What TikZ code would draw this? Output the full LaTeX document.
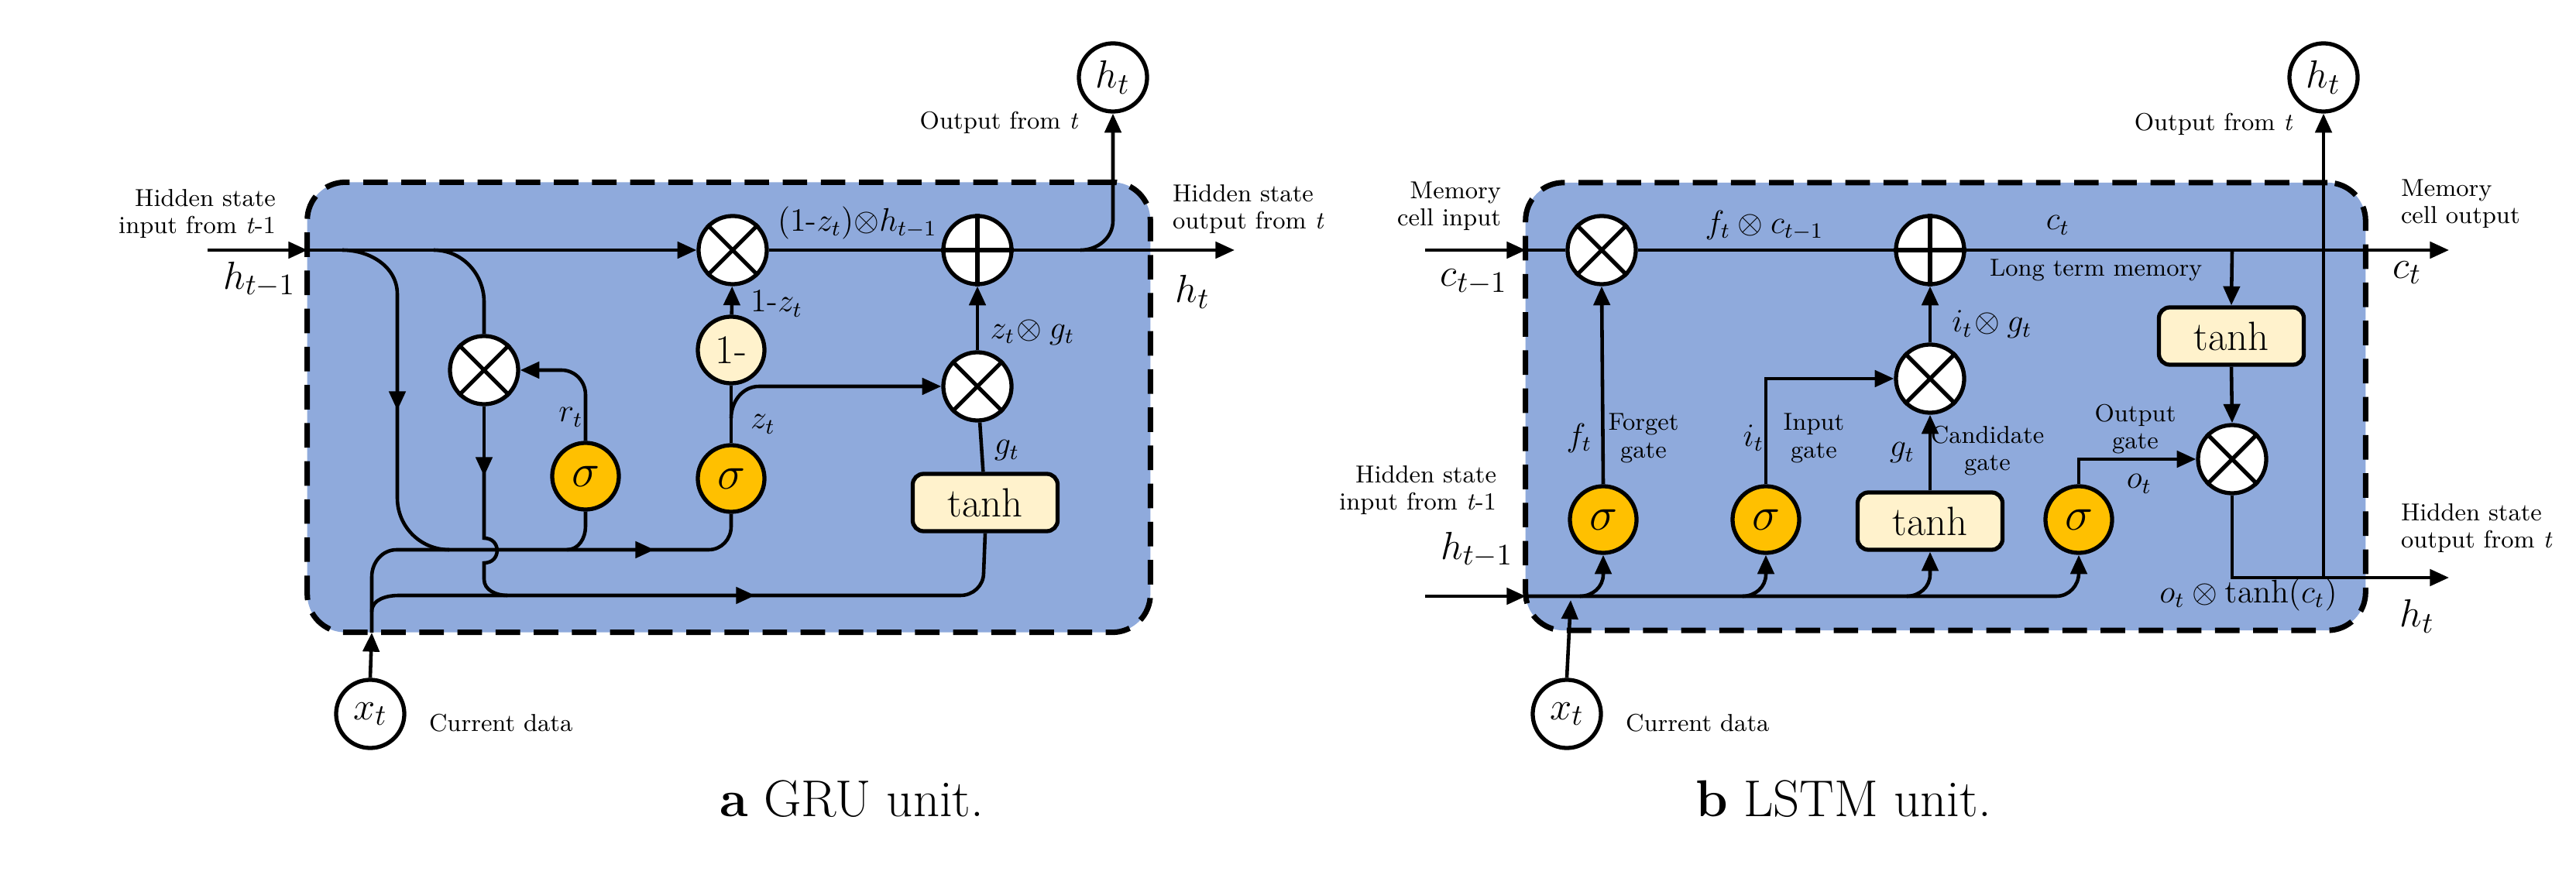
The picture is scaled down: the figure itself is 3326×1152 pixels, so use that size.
\documentclass[tikz,border=0pt]{standalone}
\usetikzlibrary{arrows.meta}
\definecolor{cellbg}{HTML}{8FAADC}
\definecolor{sigc}{HTML}{FFC000}
\definecolor{cream}{HTML}{FFF2CC}
\begin{document}
\begin{tikzpicture}[x=0.01cm,y=-0.01cm,
  line width=1.3pt,
  arr/.style={-{Triangle[length=7pt,width=6pt]}},
  cell/.style={draw,line width=2pt,dash pattern=on 9pt off 5pt,fill=cellbg,rounded corners=14pt},
  opc/.style={circle,draw,fill=white,minimum size=0.88cm,inner sep=0pt,line width=1.5pt},
  sig/.style={circle,draw,fill=sigc,minimum size=0.86cm,inner sep=0pt,line width=1.5pt,font=\fontsize{16}{16}\selectfont},
  onem/.style={circle,draw,fill=cream,minimum size=0.86cm,inner sep=0pt,line width=1.5pt,font=\fontsize{15}{15}\selectfont},
  tbox/.style={draw,fill=cream,rounded corners=4pt,minimum width=1.87cm,minimum height=0.74cm,line width=1.5pt,font=\fontsize{15}{15}\selectfont},
  io/.style={circle,draw,fill=white,minimum size=0.88cm,inner sep=0pt,line width=1.5pt,font=\fontsize{15}{15}\selectfont},
  sm/.style={font=\fontsize{9}{10}\selectfont,align=center},
  ml/.style={font=\fontsize{12}{12}\selectfont},
  bl/.style={font=\fontsize{15}{15}\selectfont},
  captxt/.style={font=\fontsize{19}{22}\selectfont}
]
\useasboundingbox (0,0) rectangle (3326,1152);
% ============ GRU ============
\node[cell,minimum width=10.88cm,minimum height=5.81cm] (gcell) at (941,526) {};
\node[opc] (m1) at (946,323) {};
\node[opc] (p1) at (1262,323) {};
\node[opc] (m2) at (1262,499) {};
\node[opc] (mr) at (625,478) {};
\foreach \n in {m1,m2,mr}{\draw[line width=1.5pt] (\n.north east)--(\n.south west) (\n.north west)--(\n.south east);}
\draw[line width=1.5pt] (p1.north)--(p1.south) (p1.west)--(p1.east);
\node[onem] (one) at (944,452) {1-};
\node[sig] (sz) at (944,618) {$\sigma$};
\node[sig] (sr) at (756,615) {$\sigma$};
\node[tbox] (tg) at (1272,649) {tanh};
\node[io] (ho) at (1437,100) {$h_t$};
\node[io] (xg) at (478,922) {$x_t$};
\coordinate (gin) at (268,323);
\coordinate (gL) at (397,323);
\coordinate (gout) at (1594,323);
\coordinate (gup) at (1395,323);
\coordinate (gxb) at (480,817);
\draw[arr] (gin) -- (gL);
\draw[arr] (gL) -- (m1.west);
\draw (m1.east) -- (p1.west);
\draw[arr] (p1.east) -- (gout);
\draw[arr] (gup) to[out=0,in=-90] (1437,285) -- (ho.south);
\draw[arr] (one) -- (m1);
\draw (sz) -- (one);
\draw[arr] (944,540) to[out=90,in=180] (980,499) -- (m2.west);
\draw[arr] (m2) -- (p1);
\draw (tg) -- (m2);
\draw[arr] (sr.north) -- (756,510) to[out=90,in=0] (725,478) -- (mr.east);
\draw[arr] (442,323) to[out=0,in=90] (513,380) -- (513,530);
\draw (513,525) -- (513,643) to[out=-90,in=180] (580,710);
\draw (560,323) to[out=0,in=90] (625,390) -- (mr.north);
\draw[arr] (mr.south) -- (625,615);
\draw (625,610) -- (625,695) to[out=0,in=0,looseness=1.8] (625,727) -- (625,748) to[out=-90,in=180] (655,769);
\draw[arr] (gxb) -- (480,790) to[out=90,in=180] (515,769) -- (975,769);
\draw (970,769) -- (1240,769) to[out=0,in=-90] (1270,740) -- (tg.south);
\draw[arr] (480,790) -- (480,745) to[out=90,in=180] (512,710) -- (845,710);
\draw (840,710) -- (915,710) to[out=0,in=-90] (944,680) -- (sz.south);
\draw (sr.south) -- (756,680) to[out=-90,in=0] (732,710);
\draw[arr] (xg.north) -- (gxb);
% GRU labels
\node[sm,align=right,anchor=east] (t1) at (370,276) {Hidden state\\ input from \textit{t}-1};
\node[bl] (t2) at (335,361) {$h_{t\mathrm{-}1}$};
\node[sm] (t3) at (1290,158) {Output from \textit{t}};
\node[sm,align=left,anchor=west] (t4) at (1500,270) {Hidden state\\ output from \textit{t}};
\node[bl] (t5) at (1540,377) {$h_t$};
\node[ml] (t6) at (1107,288) {(1-$z_t$)$\otimes h_{t\mathrm{-}1}$};
\node[ml] (t7) at (1003,392) {1-$z_t$};
\node[ml] (t8) at (985,548) {$z_t$};
\node[ml] (t9) at (1333,429) {$z_t\!\otimes g_t$};
\node[ml] (t10) at (1300,582) {$g_t$};
\node[ml] (t11) at (737,539) {$r_t$};
\node[sm,anchor=west] (t12) at (540,934) {Current data};
\node[captxt] (c1) at (1100,1032) {\textbf{a} GRU unit.};
% ============ LSTM ============
\node[cell,minimum width=10.84cm,minimum height=5.78cm] (lcell) at (2512,525) {};
\node[opc] (lf) at (2068,323) {};
\node[opc] (lp) at (2492,323) {};
\node[opc] (li) at (2492,489) {};
\node[opc] (lo) at (2882,593) {};
\foreach \n in {lf,li,lo}{\draw[line width=1.5pt] (\n.north east)--(\n.south west) (\n.north west)--(\n.south east);}
\draw[line width=1.5pt] (lp.north)--(lp.south) (lp.west)--(lp.east);
\node[tbox] (lt) at (2881,434) {tanh};
\node[sig] (sf) at (2070,671) {$\sigma$};
\node[sig] (si) at (2280,671) {$\sigma$};
\node[sig] (so) at (2684,671) {$\sigma$};
\node[tbox] (tg2) at (2492,673) {tanh};
\node[io] (hl) at (3000,100) {$h_t$};
\node[io] (xl) at (2023,922) {$x_t$};
\coordinate (cin) at (1840,323);
\coordinate (cL) at (1970,323);
\coordinate (cout) at (3162,323);
\coordinate (cbr) at (2882,323);
\coordinate (hin) at (1840,770);
\coordinate (hL) at (1970,770);
\coordinate (hcor) at (2882,746);
\coordinate (hout) at (3162,746);
\coordinate (hup) at (3000,746);
\coordinate (xb) at (2028,775);
\draw[arr] (cin) -- (cL);
\draw (cL) -- (lf.west);
\draw (lf.east) -- (lp.west);
\draw[arr] (lp.east) -- (cout);
\draw[arr] (cbr) -- (lt.north);
\draw[arr] (lt.south) -- (lo.north);
\draw[arr] (lo.south) -- (hcor) -- (hout);
\draw[arr] (hup) -- (hl.south);
\draw[arr] (sf.north) -- (lf.south);
\draw[arr] (si.north) -- (2280,489) -- (li.west);
\draw[arr] (tg2.north) -- (li.south);
\draw[arr] (li.north) -- (lp.south);
\draw[arr] (so.north) -- (2684,593) -- (lo.west);
\draw[arr] (hin) -- (hL);
\draw[arr] (hL) -- (2655,770) to[out=0,in=-90] (2684,740) -- (so.south);
\draw[arr] (2040,770) to[out=0,in=-90] (2070,742) -- (sf.south);
\draw[arr] (2250,770) to[out=0,in=-90] (2280,742) -- (si.south);
\draw[arr] (2462,770) to[out=0,in=-90] (2492,742) -- (tg2.south);
\draw[arr] (xl.north) -- (xb);
% LSTM labels
\node[sm,align=right,anchor=east] (u1) at (1952,266) {Memory\\ cell input};
\node[bl] (u2) at (1903,364) {$c_{t\mathrm{-}1}$};
\node[sm,align=right,anchor=east] (u3) at (1946,633) {Hidden state\\ input from \textit{t}-1};
\node[bl] (u4) at (1907,710) {$h_{t\mathrm{-}1}$};
\node[ml] (u5) at (2278,291) {$f_t\otimes c_{t\mathrm{-}1}$};
\node[ml] (u6) at (2657,291) {$c_t$};
\node[sm,anchor=west] (u7) at (2555,349) {Long term memory};
\node[sm] (u8) at (2858,160) {Output from \textit{t}};
\node[sm,align=left,anchor=west] (u9) at (3086,263) {Memory\\ cell output};
\node[bl] (u10) at (3108,352) {$c_t$};
\node[sm,align=left,anchor=west] (u11) at (3086,682) {Hidden state\\ output from \textit{t}};
\node[bl] (u12) at (3121,796) {$h_t$};
\node[ml] (u13) at (2572,419) {$i_t\!\otimes g_t$};
\node[ml] (u14) at (2039,566) {$f_t$};
\node[sm] (u15) at (2122,566) {Forget\\ gate};
\node[ml] (u16) at (2264,566) {$i_t$};
\node[sm] (u17) at (2342,566) {Input\\ gate};
\node[ml] (u18) at (2456,585) {$g_t$};
\node[sm] (u19) at (2566,582) {Candidate\\ gate};
\node[sm] (u20) at (2757,554) {Output\\ gate};
\node[ml] (u21) at (2762,625) {$o_t$};
\node[ml] (u22) at (2903,768) {$o_t\otimes \mathrm{tanh}(c_t)$};
\node[sm,anchor=west] (u23) at (2085,934) {Current data};
\node[captxt] (c2) at (2380,1032) {\textbf{b} LSTM unit.};
\end{tikzpicture}
\end{document}
